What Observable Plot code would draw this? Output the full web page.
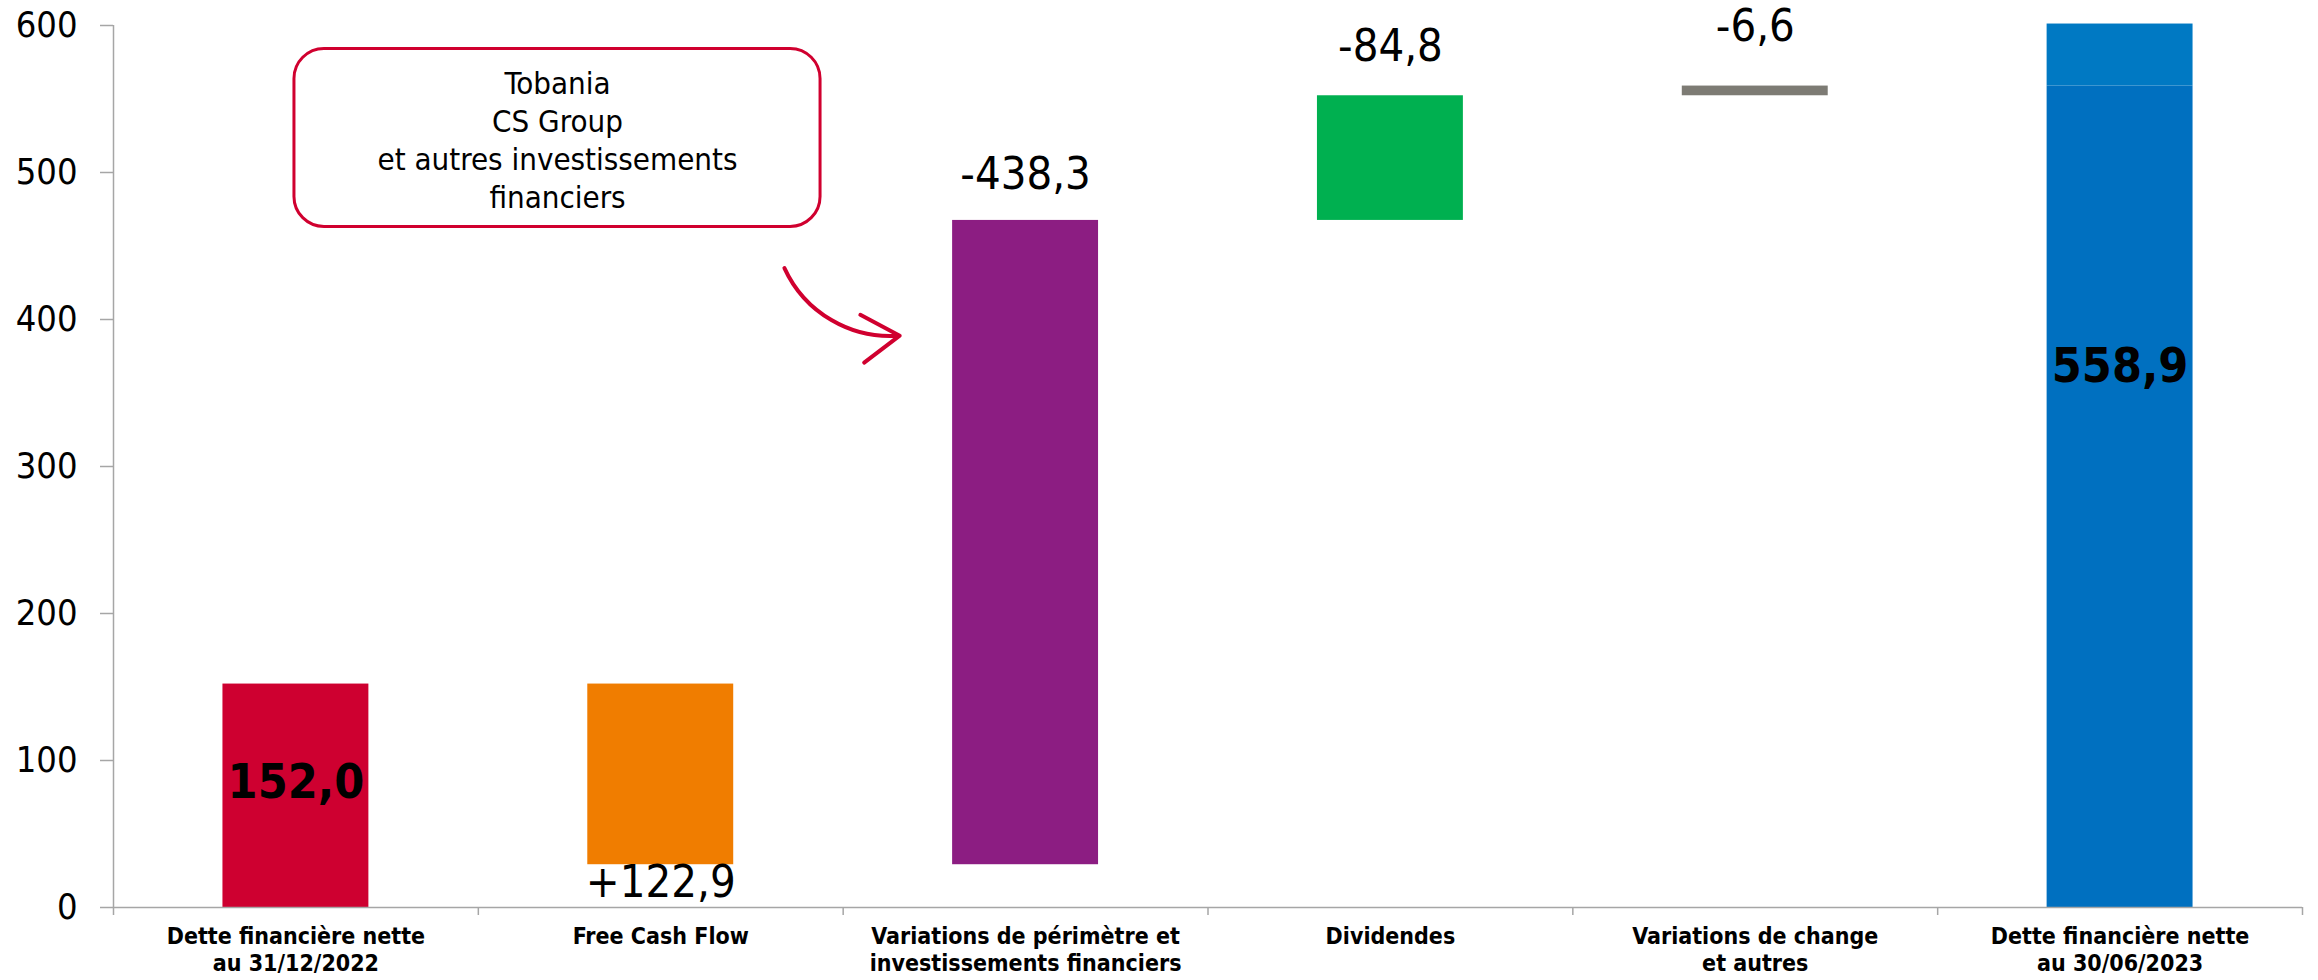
<!DOCTYPE html>
<html>
<head>
<meta charset="utf-8">
<script src="https://cdn.jsdelivr.net/npm/d3@7"></script>
<script src="https://cdn.jsdelivr.net/npm/@observablehq/plot@0.6"></script>
<style>
  html, body { margin: 0; padding: 0; background: #fff; }
  #chart svg { display: block; }
</style>
</head>
<body>
<div id="chart"></div>
<script>
// ---- data ----
const categories = [
  "Dette financière nette\nau 31/12/2022",
  "Free Cash Flow",
  "Variations de périmètre et\ninvestissements financiers",
  "Dividendes",
  "Variations de change\net autres",
  "Dette financière nette\nau 30/06/2023"
];
const openingDebt = 152.0;
const flows = [122.9, -438.3, -84.8, -6.6];
const closingDebt = 558.9;
const closingBarTop = 601;            // lighter cap drawn on top of the final bar
const yTicks = [0, 100, 200, 300, 400, 500, 600];
const calloutText = "Tobania\nCS Group\net autres investissements\nfinanciers";

// ---- styles / layout ----
const palette = ["#CE0030", "#F07D00", "#8C1D82", "#00B050", "#7D7B74", "#0070C0"];
const capColor = "#0079C3";
const calloutRed = "#D0002F";
const axisGray = "#A6A6A6";
const barHalf = 0.2;
const flowLabelDy = [18, -46, -49, -59];
const totalLabelDy = [99, 281];
const callout = {x1: -0.004, x2: 1.438, y1: 463, y2: 584, tx: 0.717, ty: 523};
const arrowSpec = {x1: 1.339, y1: 435, x2: 1.655, y2: 389};
const font = "'DejaVu Sans Condensed', 'DejaVu Sans', sans-serif";

// ---- waterfall construction ----
const rows = [{i: 0, y1: 0, y2: openingDebt, fill: palette[0]}];
let level = openingDebt;
flows.forEach((f, k) => {
  const next = level - f;
  rows.push({i: k + 1, y1: level, y2: next, fill: palette[k + 1], flow: f});
  level = next;
});
rows.push({i: 5, y1: 0, y2: closingDebt, fill: palette[5]});
const capRows = [{i: 5, y1: closingDebt, y2: closingBarTop, fill: capColor}];

const fmt = v => Math.abs(v).toFixed(1).replace(".", ",");
const flowLabels = rows.filter(d => d.flow !== undefined).map((d, k) => ({
  i: d.i,
  y: d.flow > 0 ? Math.min(d.y1, d.y2) : Math.max(d.y1, d.y2),
  text: (d.flow > 0 ? "+" : "-") + fmt(d.flow),
  dy: flowLabelDy[k]
}));
const totalLabels = [
  {i: 0, y: openingDebt, text: fmt(openingDebt), dy: totalLabelDy[0]},
  {i: 5, y: closingDebt, text: fmt(closingDebt), dy: totalLabelDy[1]}
];
const boundaries = d3.range(categories.length + 1).map(k => k - 0.5);

const chart = Plot.plot({
  width: 2318,
  height: 980,
  marginLeft: 113,
  marginRight: 16,
  marginTop: 25,
  marginBottom: 73,
  style: {fontFamily: font, background: "#fff"},
  x: {domain: [-0.5, categories.length - 0.5], axis: null},
  y: {domain: [0, 600], axis: null},
  color: {type: "identity"},
  marks: [
    // y axis
    Plot.axisY({ticks: yTicks, tickSize: 13, tickPadding: 23, fontSize: 36, stroke: axisGray, strokeWidth: 1.5, fill: "#000", tickFormat: d => d}),
    Plot.ruleX([-0.5], {y1: 0, y2: 600, stroke: axisGray, strokeWidth: 1.5}),
    // bars
    Plot.rectY(rows, {x1: d => d.i - barHalf, x2: d => d.i + barHalf, y1: "y1", y2: "y2", fill: "fill"}),
    Plot.rectY(capRows, {x1: d => d.i - barHalf, x2: d => d.i + barHalf, y1: "y1", y2: "y2", fill: "fill"}),
    // x axis
    Plot.ruleY([0], {stroke: axisGray, strokeWidth: 1.5}),
    Plot.axisX({ticks: boundaries, tickSize: 8, stroke: axisGray, strokeWidth: 1.5, tickFormat: () => ""}),
    Plot.axisX({ticks: d3.range(categories.length), tickSize: 0, tickPadding: 18, fontSize: 23, fontWeight: "bold", lineHeight: 1.15, fill: "#000", tickFormat: i => categories[i]}),
    // value labels
    ...flowLabels.map(l => Plot.text([l], {x: "i", y: "y", text: "text", dy: l.dy, fontSize: 45, fill: "#000"})),
    ...totalLabels.map(l => Plot.text([l], {x: "i", y: "y", text: "text", dy: l.dy, fontSize: 48, fontWeight: "bold", fill: "#000"})),
    // callout
    Plot.rect([callout], {x1: "x1", x2: "x2", y1: "y1", y2: "y2", rx: 30, fill: "#fff", stroke: calloutRed, strokeWidth: 3}),
    Plot.text([callout], {x: "tx", y: "ty", text: () => calloutText, fontSize: 31, lineHeight: 1.23, fill: "#000"}),
    Plot.arrow([arrowSpec], {x1: "x1", y1: "y1", x2: "x2", y2: "y2", bend: -35, headLength: 40, headAngle: 65, stroke: calloutRed, strokeWidth: 4})
  ]
});
document.getElementById("chart").append(chart);
</script>
</body>
</html>
